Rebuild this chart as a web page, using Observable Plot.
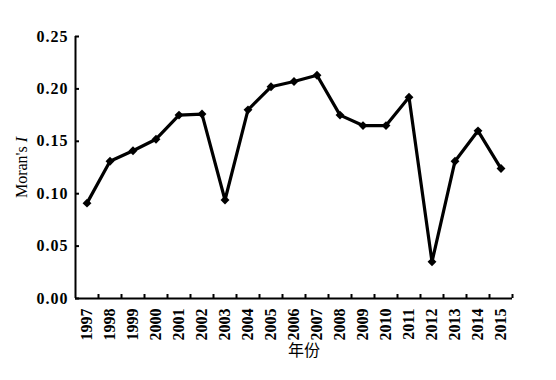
<!DOCTYPE html>
<html><head><meta charset="utf-8">
<script src="https://cdn.jsdelivr.net/npm/d3@7"></script>
<script src="https://cdn.jsdelivr.net/npm/@observablehq/plot@0.6"></script>
<style>body{margin:0;background:#fff}</style>
</head><body><div id="chart"></div>
<script>
const years = [1997,1998,1999,2000,2001,2002,2003,2004,2005,2006,2007,2008,2009,2010,2011,2012,2013,2014,2015];
const moranI = [0.091,0.131,0.141,0.152,0.175,0.176,0.094,0.180,0.202,0.207,0.213,0.175,0.165,0.165,0.192,0.035,0.131,0.160,0.124];
const yTicks = [0,0.05,0.10,0.15,0.20,0.25];
const xLabel = "年份";
const yLabel = "Moran's I";

const data = years.map((year, i) => ({year, value: moranI[i]}));
const bounds = years.map(y => y + 0.5);
const xDomain = [years[0] - 0.5, years[years.length - 1] + 0.5];

const chart = Plot.plot({
  width: 556, height: 380,
  marginLeft: 75, marginRight: 44, marginTop: 36, marginBottom: 82,
  style: {fontFamily: "'Liberation Serif', 'Noto Sans CJK SC', serif", background: "#fff", color: "#000"},
  x: {domain: xDomain},
  y: {domain: [0, 0.25]},
  marks: [
    Plot.axisY({ticks: yTicks, tickFormat: d3.format(".2f"), tickSize: 0, tickPadding: 7, fontSize: 16, fontWeight: "bold",
      label: yLabel, labelAnchor: "center", labelArrow: "none", labelOffset: 60}),
    Plot.axisX({ticks: years, tickFormat: d => String(d), tickSize: 0, tickRotate: -90, tickPadding: 10, fontSize: 16, fontWeight: "bold",
      label: xLabel, labelAnchor: "center", labelArrow: "none", labelOffset: 57}),
    Plot.ruleX(bounds, {x: d => d, y1: 0, y2: 0, insetBottom: 4, strokeWidth: 2}),
    Plot.ruleY(yTicks, {y: d => d, x1: xDomain[0], x2: xDomain[0], insetRight: -4, strokeWidth: 2}),
    Plot.ruleY([0], {strokeWidth: 2}),
    Plot.ruleX([xDomain[0]], {strokeWidth: 2}),
    Plot.line(data, {x: "year", y: "value", stroke: "#000", strokeWidth: 3.2}),
    Plot.dot(data, {x: "year", y: "value", symbol: "diamond2", r: 4, fill: "#000", stroke: "none"})
  ]
});

const yl = chart.querySelector('[aria-label="y-axis label"] text');
if (yl) { yl.textContent = ""; yl.append("Moran's "); const t = document.createElementNS("http://www.w3.org/2000/svg", "tspan"); t.setAttribute("font-style", "italic"); t.textContent = "I"; yl.append(t); }
chart.querySelectorAll('[aria-label="y-axis label"], [aria-label="x-axis label"]').forEach(g => {
  g.setAttribute("font-weight", "normal"); g.setAttribute("font-size", "16");
  g.querySelectorAll("text").forEach(t => { t.style.fontWeight = "normal"; t.style.fontSize = "16px"; });
});
chart.querySelectorAll('[aria-label="y-axis tick label"] text').forEach(t => { t.style.letterSpacing = "1px"; });
const xl = chart.querySelector('[aria-label="x-axis label"]');
if (xl) xl.setAttribute("transform", (xl.getAttribute("transform") || "") + " translate(10,0)");
document.getElementById("chart").append(chart);
</script>
</body></html>
